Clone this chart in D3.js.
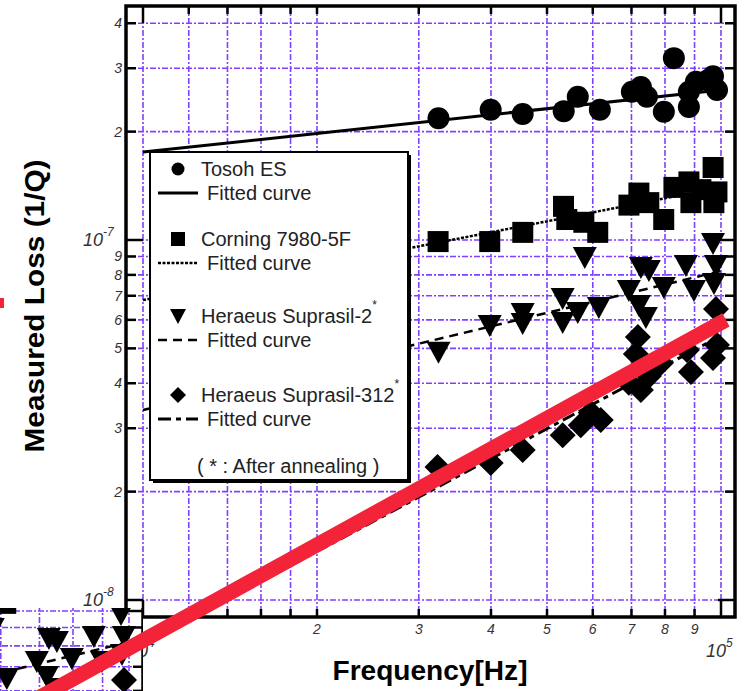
<!DOCTYPE html>
<html>
<head>
<meta charset="utf-8">
<script src="https://cdn.jsdelivr.net/npm/d3@7"></script>
<style>
  body { margin: 0; background: #fff; }
  svg { display: block; font-family: "Liberation Sans", Arial, sans-serif; }
</style>
</head>
<body>
<div id="chart"></div>
<script>
// measured loss vs frequency
var seriesNames = ["Tosoh ES", "Corning 7980-5F", "Heraeus Suprasil-2", "Heraeus Suprasil-312"];
var seriesStar = [false, false, true, true];

var tosohF = [32450, 39950, 45380, 53440, 56520, 61710, 70120, 72680, 74440, 79630, 82880, 87990, 87990, 90500, 94950, 98420, 96860];
var tosohQ = [2.18e-7, 2.30e-7, 2.24e-7, 2.28e-7, 2.50e-7, 2.30e-7, 2.58e-7, 2.66e-7, 2.50e-7, 2.27e-7, 3.20e-7, 2.58e-7, 2.34e-7, 2.75e-7, 2.78e-7, 2.61e-7, 2.85e-7];

var cornF = [32400, 39800, 45400, 53400, 54100, 57900, 61200, 69300, 72100, 75000, 79600, 82900, 88000, 92300, 96900, 97200, 88700, 98400];
var cornQ = [0.99e-7, 0.99e-7, 1.05e-7, 1.24e-7, 1.14e-7, 1.12e-7, 1.05e-7, 1.25e-7, 1.35e-7, 1.27e-7, 1.14e-7, 1.40e-7, 1.45e-7, 1.38e-7, 1.59e-7, 1.27e-7, 1.27e-7, 1.36e-7];

var s2F = [32450, 39800, 45380, 45380, 53220, 53220, 56520, 61460, 58120, 69270, 72680, 75030, 72100, 74130, 79630, 86950, 89780, 96860, 97240, 98020];
var s2Q = [4.89e-8, 5.81e-8, 6.27e-8, 5.88e-8, 6.90e-8, 5.92e-8, 6.31e-8, 6.51e-8, 8.97e-8, 7.26e-8, 8.41e-8, 8.25e-8, 6.60e-8, 6.11e-8, 7.40e-8, 8.52e-8, 7.26e-8, 9.81e-8, 7.60e-8, 8.52e-8];

var s312F = [32320, 39950, 45380, 53220, 57200, 59520, 61940, 69270, 72680, 75030, 71240, 71810, 78700, 87310, 88720, 96860, 98420, 98020];
var s312Q = [2.34e-8, 2.40e-8, 2.61e-8, 2.87e-8, 3.06e-8, 3.31e-8, 3.16e-8, 4.01e-8, 3.83e-8, 4.19e-8, 4.82e-8, 5.38e-8, 4.55e-8, 4.95e-8, 4.30e-8, 4.70e-8, 5.11e-8, 6.43e-8];

// fitted power-law curves (end points)
var fitF = [1e4, 1e5];
var tosohFit = [1.755e-7, 2.61e-7];
var cornFit = [6.81e-8, 1.40e-7];
var s2Fit = [3.37e-8, 8.2e-8];
var s312Fit = [7.53e-9, 5.42e-8];

// red overlay line
var redF = [6310, 1.02e5];
var redQ = [5.14e-9, 6.0e-8];

// axes
var xGrid = [1e4, 1.2e4, 1.4e4, 1.6e4, 1.8e4, 2e4, 3e4, 4e4, 5e4, 6e4, 7e4, 8e4, 9e4, 1e5];
var yGrid = [1e-8, 2e-8, 3e-8, 4e-8, 5e-8, 6e-8, 7e-8, 8e-8, 9e-8, 1e-7, 2e-7, 3e-7, 4e-7];
var xDigitVals = [2e4, 3e4, 4e4, 5e4, 6e4, 7e4, 8e4, 9e4];
var xDigitText = ["2", "3", "4", "5", "6", "7", "8", "9"];
var xDecVals = [1e4, 1e5];
var xDecText = ["4", "5"];
var yDigitVals = [4e-7, 3e-7, 2e-7, 9e-8, 8e-8, 7e-8, 6e-8, 5e-8, 4e-8, 3e-8, 2e-8];
var yDigitText = ["4", "3", "2", "9", "8", "7", "6", "5", "4", "3", "2"];
var yDecVals = [1e-7, 1e-8];
var yDecText = ["-7", "-8"];

var W = 746, H = 691;
var L = 126, R = 735, T = 6, B = 617;
var gridColor = "#8040ff";
var red = "#f3243a";

var x = d3.scaleLog().domain([1e4, 1e5]).range([143, 721]);
var y = d3.scaleLog().domain([1e-8, 1e-7]).range([600, 240]);

var svg = d3.select("#chart").append("svg").attr("width", W).attr("height", H);
var defs = svg.append("defs");
defs.append("clipPath").attr("id", "plotClip")
    .append("rect").attr("x", L).attr("y", T).attr("width", R - L).attr("height", B - T);
defs.append("clipPath").attr("id", "insetClip")
    .append("rect").attr("x", 0).attr("y", 608).attr("width", 143).attr("height", H - 608);

var zip = function (a, b) { return a.map(function (v, i) { return [v, b[i]]; }); };
var series = [zip(tosohF, tosohQ), zip(cornF, cornQ), zip(s2F, s2Q), zip(s312F, s312Q)];
var fits = [zip(fitF, tosohFit), zip(fitF, cornFit), zip(fitF, s2Fit), zip(fitF, s312Fit)];
var fitDash = [null, "3,1.5", "9,6", "13,5,5,5"];
var fitWidth = [3, 2.5, 2.5, 3];

var bigMarks = [
    function (s) { return s.append("circle").attr("r", 11); },
    function (s) { return s.append("rect").attr("x", -10.5).attr("y", -10.5).attr("width", 21).attr("height", 21); },
    function (s) { return s.append("path").attr("d", "M-12,-10L12,-10L0,12Z"); },
    function (s) { return s.append("path").attr("d", "M0,-13L13,0L0,13L-13,0Z"); }
];
var smallMarks = [
    function (s) { return s.append("circle").attr("r", 6.5); },
    function (s) { return s.append("rect").attr("x", -7).attr("y", -7).attr("width", 14).attr("height", 14); },
    function (s) { return s.append("path").attr("d", "M-8,-7L8,-7L0,8Z"); },
    function (s) { return s.append("path").attr("d", "M0,-8L8,0L0,8L-8,0Z"); }
];

var line = d3.line().x(function (d) { return x(d[0]); }).y(function (d) { return y(d[1]); });

function drawPlot(g) {
    var grid = g.append("g").attr("stroke", gridColor).attr("stroke-width", 1.6)
        .attr("stroke-dasharray", "6,2,2,2");
    grid.selectAll(".gx").data(xGrid).enter().append("line")
        .attr("x1", function (d) { return x(d); }).attr("x2", function (d) { return x(d); })
        .attr("y1", T).attr("y2", B);
    grid.selectAll(".gy").data(yGrid).enter().append("line")
        .attr("x1", L).attr("x2", R)
        .attr("y1", function (d) { return y(d); }).attr("y2", function (d) { return y(d); });

    var content = g.append("g").attr("clip-path", "url(#plotClip)");
    fits.forEach(function (f, i) {
        content.append("path").datum(f).attr("d", line).attr("fill", "none")
            .attr("stroke", "#000").attr("stroke-width", fitWidth[i])
            .attr("stroke-dasharray", fitDash[i]);
    });
    series.forEach(function (s, i) {
        var pts = content.append("g").selectAll("g").data(s).enter().append("g")
            .attr("transform", function (d) { return "translate(" + x(d[0]) + "," + y(d[1]) + ")"; });
        bigMarks[i](pts).attr("fill", "#000");
    });

    // frame and ticks
    g.append("rect").attr("x", L).attr("y", T).attr("width", R - L).attr("height", B - T)
        .attr("fill", "none").attr("stroke", "#000").attr("stroke-width", 3.5);
    var ticks = g.append("g").attr("stroke", "#000").attr("stroke-width", 2.5);
    xGrid.forEach(function (v) {
        var len = xDecVals.indexOf(v) >= 0 ? 17 : 8;
        ticks.append("line").attr("x1", x(v)).attr("x2", x(v)).attr("y1", B).attr("y2", B - len);
        ticks.append("line").attr("x1", x(v)).attr("x2", x(v)).attr("y1", T).attr("y2", T + len);
    });
    yGrid.forEach(function (v) {
        var len = yDecVals.indexOf(v) >= 0 ? 17 : 10;
        ticks.append("line").attr("y1", y(v)).attr("y2", y(v)).attr("x1", L).attr("x2", L + len);
        ticks.append("line").attr("y1", y(v)).attr("y2", y(v)).attr("x1", R).attr("x2", R - len);
    });
}

drawPlot(svg.append("g"));

// tick labels
var lab = svg.append("g").attr("fill", "#333").attr("font-style", "italic");
lab.selectAll(".xd").data(xDigitVals).enter().append("text")
    .attr("x", function (d) { return x(d); }).attr("y", 634)
    .attr("text-anchor", "middle").attr("font-size", 14)
    .text(function (d, i) { return xDigitText[i]; });
xDecVals.forEach(function (v, i) {
    var t = lab.append("text").attr("x", x(v) + 2).attr("y", 657).attr("text-anchor", "start")
        .attr("font-size", 18);
    t.append("tspan").attr("x", x(v) - 15).text("10");
    t.append("tspan").attr("dy", -10).attr("font-size", 12).text(xDecText[i]);
});
lab.selectAll(".yd").data(yDigitVals).enter().append("text")
    .attr("x", 122).attr("y", function (d) { return y(d) + 5; })
    .attr("text-anchor", "end").attr("font-size", 14)
    .text(function (d, i) { return yDigitText[i]; });
yDecVals.forEach(function (v, i) {
    var t = lab.append("text").attr("y", y(v) + 6).attr("font-size", 18);
    t.append("tspan").attr("x", 83).text("10");
    t.append("tspan").attr("dy", -10).attr("font-size", 12).text(yDecText[i]);
});

// axis titles
svg.append("text").attr("x", 430).attr("y", 680).attr("text-anchor", "middle")
    .attr("font-size", 27).attr("font-weight", "bold")
    .attr("textLength", 195).attr("lengthAdjust", "spacingAndGlyphs")
    .text("Frequency[Hz]");
svg.append("text").attr("transform", "translate(44,306) rotate(-90)")
    .attr("text-anchor", "middle").attr("font-size", 28).attr("font-weight", "bold")
    .attr("textLength", 293).attr("lengthAdjust", "spacingAndGlyphs")
    .text("Measured Loss (1/Q)");

// legend
var leg = svg.append("g");
leg.append("rect").attr("x", 153).attr("y", 155).attr("width", 258).attr("height", 328).attr("fill", "#000");
leg.append("rect").attr("x", 150).attr("y", 152).attr("width", 258).attr("height", 328)
    .attr("fill", "#fff").attr("stroke", "#000").attr("stroke-width", 2);
var rowY = [169, 239, 316, 395];
seriesNames.forEach(function (name, i) {
    var my = rowY[i], ly = rowY[i] + 24;
    var mk = leg.append("g").attr("transform", "translate(178," + my + ")");
    smallMarks[i](mk).attr("fill", "#000");
    var t = leg.append("text").attr("x", 201).attr("y", my + 7).attr("font-size", 20).attr("fill", "#222").text(name);
    if (seriesStar[i]) t.append("tspan").attr("dy", -14).attr("font-size", 12).text("*");
    leg.append("line").attr("x1", 158).attr("x2", 198).attr("y1", ly).attr("y2", ly)
        .attr("stroke", "#000").attr("stroke-width", fitWidth[i]).attr("stroke-dasharray", fitDash[i]);
    leg.append("text").attr("x", 207).attr("y", ly + 7).attr("font-size", 20).attr("fill", "#222").text("Fitted curve");
});
leg.append("text").attr("x", 197).attr("y", 473).attr("font-size", 20).attr("fill", "#222")
    .text("( * : After annealing )");

// pasted inset copy of the upper-right region
var inset = svg.append("g").attr("clip-path", "url(#insetClip)");
inset.append("rect").attr("x", 0).attr("y", 608).attr("width", 143).attr("height", H - 608).attr("fill", "#fff");
drawPlot(inset.append("g").attr("transform", "translate(-592,371)"));

// red overlay
svg.append("path").datum(zip(redF, redQ)).attr("d", line).attr("fill", "none")
    .attr("stroke", red).attr("stroke-width", 15);
svg.append("rect").attr("x", 0).attr("y", 298).attr("width", 4).attr("height", 10).attr("fill", red);
</script>
</body>
</html>
